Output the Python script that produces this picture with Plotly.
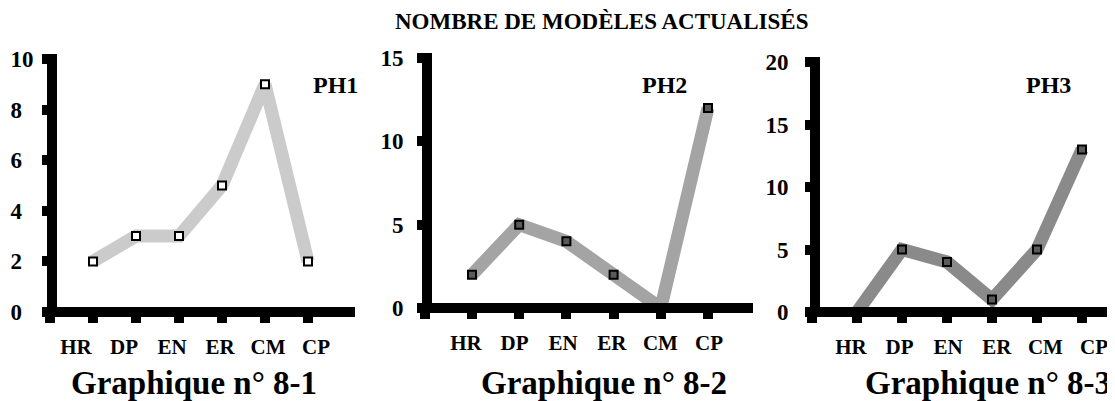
import plotly.graph_objects as go

# ---------------- data ----------------
categories = ["HR", "DP", "EN", "ER", "CM", "CP"]
ph1_values = [2, 3, 3, 5, 9, 2]
ph2_values = [2, 5, 4, 2, 0, 12]
ph3_values = [0, 5, 4, 1, 5, 13]
panel_names = ["PH1", "PH2", "PH3"]
graph_titles = ["Graphique n° 8-1", "Graphique n° 8-2", "Graphique n° 8-3"]
y_ticks_ph1 = [0, 2, 4, 6, 8, 10]
y_ticks_ph2 = [0, 5, 10, 15]
y_ticks_ph3 = [0, 5, 10, 15, 20]
main_title = "NOMBRE DE MODÈLES ACTUALISÉS"

# ---------------- layout / style ----------------
PAGE_W, PAGE_H = 1115, 401
OFF = 8                      # default page (body) margin in front of the figure
W, H = PAGE_W - OFF, PAGE_H - OFF
FONT = "Liberation Serif, Times New Roman, serif"


def px_x(p):
    return (p - OFF) / W


def px_y(p):
    return 1 - (p - OFF) / H


series = [ph1_values, ph2_values, ph3_values]
yticks = [y_ticks_ph1, y_ticks_ph2, y_ticks_ph3]
line_colors = ["#cbcbcb", "#a4a4a4", "#8a8a8a"]
marker_fill = ["white", "#5a5a5a", "#5a5a5a"]

# pixel geometry of each panel (page pixels: axis-line centres, first category, spacing ...)
geo = [
    dict(xL=52, yB=312, right=355, top=54, x0=93, dx=43.0, ymaxpx=59, ymax=10,
         lab0=76, labdx=48.0, stand=4, gcx=194, phx=335, pad_single=True),
    dict(xL=427, yB=308, right=753, top=53, x0=472, dx=47.2, ymaxpx=58, ymax=15,
         lab0=466, labdx=48.6, stand=9, gcx=604, phx=664, pad_single=False),
    dict(xL=815, yB=312, right=1113, top=57, x0=857, dx=45.0, ymaxpx=62, ymax=20,
         lab0=851, labdx=48.6, stand=12, gcx=988, phx=1048, pad_single=False),
]
LW = 10  # axis line width

fig = go.Figure()
layout = dict(
    template="none",
    width=W, height=H, margin=dict(l=0, r=0, t=0, b=0, pad=0),
    paper_bgcolor="white", plot_bgcolor="white", showlegend=False,
    font=dict(family=FONT, color="black"),
)
annotations = []

idx = list(range(len(categories)))
for i, (vals, g) in enumerate(zip(series, geo)):
    n = i + 1
    xa = "x" if n == 1 else f"x{n}"
    ya = "y" if n == 1 else f"y{n}"
    xlab = f"x{n + 3}"
    left = g["xL"] - LW / 2
    scale = (g["yB"] - g["ymaxpx"]) / g["ymax"]
    yr = [0, g["ymax"] + (g["ymaxpx"] - g["top"]) / scale]
    xr = [(left - g["x0"]) / g["dx"], (g["right"] - g["x0"]) / g["dx"]]
    dom_x = [px_x(left), px_x(g["right"])]
    dom_y = [px_y(g["yB"]), px_y(g["top"])]

    fig.add_trace(go.Scatter(
        x=idx, y=vals, xaxis=xa, yaxis=ya, mode="lines",
        line=dict(color=line_colors[i], width=13), hoverinfo="skip"))
    fig.add_trace(go.Scatter(
        x=idx, y=vals, xaxis=xa, yaxis=ya, mode="markers",
        marker=dict(symbol="square", size=8, color=marker_fill[i],
                    line=dict(color="black", width=2)),
        customdata=categories, hovertemplate="%{customdata}: %{y}<extra></extra>"))
    # invisible trace carrying the category-label axis
    fig.add_trace(go.Scatter(
        x=idx, y=vals, xaxis=xlab, yaxis=ya, mode="markers",
        marker=dict(opacity=0), hoverinfo="skip"))

    ticks = yticks[i]
    if g["pad_single"]:
        w = max(len(str(t)) for t in ticks)
        ttext = [str(t) + "\u2007" * (w - len(str(t))) for t in ticks]
    else:
        ttext = [str(t) for t in ticks]

    axis_common = dict(showgrid=False, zeroline=False, fixedrange=True, automargin=False)
    layout["xaxis" if n == 1 else f"xaxis{n}"] = dict(
        axis_common, domain=dom_x, range=xr, anchor="free", position=px_y(g["yB"]),
        showline=True, linecolor="black", linewidth=LW,
        ticks="outside", ticklen=6, tickwidth=10, tickcolor="black",
        tickvals=[-1] + idx, showticklabels=False)
    layout["yaxis" if n == 1 else f"yaxis{n}"] = dict(
        axis_common, domain=dom_y, range=yr, anchor="free", position=px_x(g["xL"]),
        showline=True, linecolor="black", linewidth=LW,
        ticks="outside", ticklen=5, tickwidth=10, tickcolor="black",
        tickvals=ticks, ticktext=ttext, ticklabelstandoff=g["stand"],
        tickfont=dict(family=FONT, size=23, color="black", weight="bold"))
    lr = [(left - g["lab0"]) / g["labdx"], (g["right"] - g["lab0"]) / g["labdx"]]
    layout[f"xaxis{n + 3}"] = dict(
        axis_common, domain=dom_x, range=lr, overlaying=xa, anchor="free",
        position=px_y(g["yB"]), side="bottom",
        showline=False, ticks="", tickvals=idx, ticktext=categories,
        ticklabelstandoff=20,
        tickfont=dict(family=FONT, size=21, color="black", weight="bold"))

    annotations.append(dict(
        xref="paper", yref="paper", x=px_x(g["phx"]), y=px_y(85),
        text=panel_names[i], showarrow=False, xanchor="center", yanchor="middle",
        font=dict(family=FONT, size=24, color="black", weight="bold")))
    annotations.append(dict(
        xref="paper", yref="paper", x=px_x(g["gcx"]), y=px_y(383),
        text=graph_titles[i], showarrow=False, xanchor="center", yanchor="middle",
        font=dict(family=FONT, size=33, color="black", weight="bold")))

annotations.append(dict(
    xref="paper", yref="paper", x=px_x(601), y=px_y(22),
    text=main_title, showarrow=False, xanchor="center", yanchor="middle",
    font=dict(family=FONT, size=23, color="black", weight="bold")))
layout["annotations"] = annotations

fig.update_layout(**layout)
fig.write_html("out.html")
